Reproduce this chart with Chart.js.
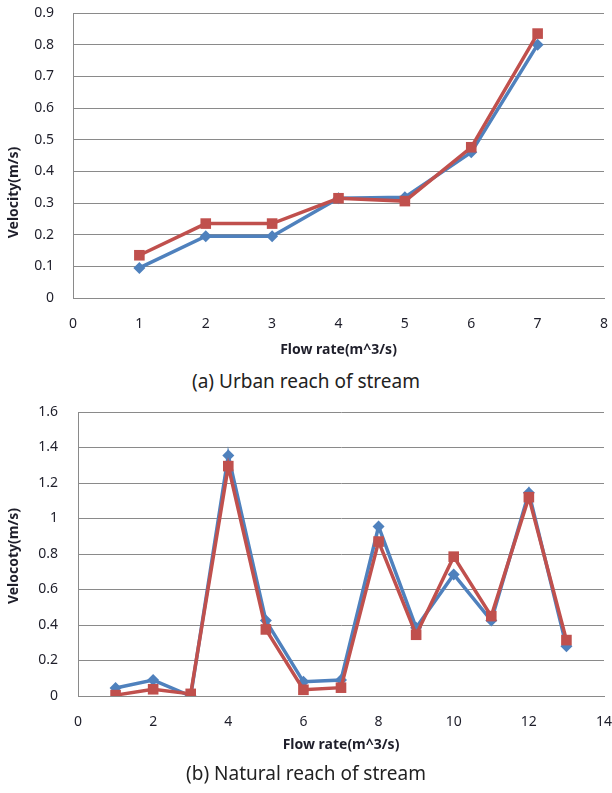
<!DOCTYPE html>
<html>
<head>
<meta charset="utf-8">
<script src="https://cdn.jsdelivr.net/npm/chart.js@4.4.1/dist/chart.umd.min.js"></script>
<style>
  html, body { margin: 0; padding: 0; background: #fff; }
  body { width: 612px; height: 793px; position: relative; overflow: hidden; }
  .box { position: absolute; left: 0; width: 612px; }
  .caption {
    position: absolute; left: 0; width: 612px; text-align: center;
    font-family: "Noto Sans", sans-serif; font-size: 19px; color: #222;
    line-height: 24px; height: 24px;
  }
</style>
</head>
<body>
<div class="box" style="top:0;height:362px"><canvas id="urban" width="612" height="362"></canvas></div>
<div class="caption" style="top:369px">(a) Urban reach of stream</div>
<div class="box" style="top:400px;height:362px"><canvas id="natural" width="612" height="362"></canvas></div>
<div class="caption" style="top:761px">(b) Natural reach of stream</div>
<script>
// Urban reach: flow rate vs. velocity, two series
const urbanFlow = [1, 2, 3, 4, 5, 6, 7];
const urbanSeries1 = [0.095, 0.195, 0.195, 0.315, 0.318, 0.46, 0.80];
const urbanSeries2 = [0.135, 0.235, 0.235, 0.315, 0.306, 0.476, 0.835];

// Natural reach: flow rate vs. velocity, two series
const naturalFlow = [1, 2, 3, 4, 5, 6, 7, 8, 9, 10, 11, 12, 13];
const naturalSeries1 = [0.045, 0.09, 0.0, 1.355, 0.425, 0.08, 0.09, 0.955, 0.385, 0.685, 0.425, 1.145, 0.28];
const naturalSeries2 = [0.005, 0.038, 0.012, 1.295, 0.375, 0.035, 0.047, 0.87, 0.345, 0.785, 0.45, 1.12, 0.315];

const BLUE = '#4F81BD';
const RED = '#C0504D';
const GRID = '#8a8a8a';
const TEXT = '#1e1e2a';

// rotated axis title drawn beside the value axis
const sideTitle = {
  id: 'sideTitle',
  afterDraw(chart, args, opts) {
    const { ctx, chartArea } = chart;
    const y = (chartArea.top + chartArea.bottom) / 2 + (opts.shift || 0);
    ctx.save();
    ctx.translate(opts.x, y);
    ctx.rotate(-Math.PI / 2);
    ctx.font = 'bold 14px "Noto Sans", sans-serif';
    ctx.fillStyle = TEXT;
    ctx.textAlign = 'center';
    ctx.textBaseline = 'middle';
    ctx.fillText(opts.text, 0, 0);
    ctx.restore();
  }
};

function pairs(xs, ys) {
  return xs.map((x, i) => ({ x: x, y: ys[i] }));
}

// plain decimal labels: 0, 0.2, 1, 1.2 ...
function plainNumber(v) {
  return String(parseFloat(v.toFixed(2)));
}

function makeChart(id, cfg) {
  return new Chart(document.getElementById(id), {
    type: 'line',
    data: {
      datasets: [
        {
          data: pairs(cfg.flow, cfg.s1),
          borderColor: BLUE, backgroundColor: BLUE,
          borderWidth: 3.5, pointStyle: 'rectRot', pointRadius: 6,
          pointBorderWidth: 0, tension: 0, order: 2
        },
        {
          data: pairs(cfg.flow, cfg.s2),
          borderColor: RED, backgroundColor: RED,
          borderWidth: 3.5, pointStyle: 'rect', pointRadius: 7.5,
          pointBorderWidth: 0, tension: 0, order: 1
        }
      ]
    },
    options: {
      responsive: false,
      animation: false,
      events: [],
      layout: { padding: { top: cfg.padTop, right: 8, left: 0, bottom: 0 } },
      plugins: {
        legend: { display: false },
        tooltip: { enabled: false },
        sideTitle: { text: cfg.yTitle, x: 14.5, shift: cfg.yShift }
      },
      scales: {
        x: {
          type: 'linear',
          min: cfg.xRange.min, max: cfg.xRange.max,
          ticks: {
            stepSize: cfg.xStep, padding: 18,
            font: { family: '"Noto Sans", sans-serif', size: 14 },
            color: TEXT, callback: plainNumber
          },
          grid: { display: false, drawTicks: false },
          border: { display: true, color: GRID, width: 1 },
          title: {
            display: true, text: 'Flow rate(m^3/s)',
            font: { family: '"Noto Sans", sans-serif', size: 14, weight: 'bold' },
            color: TEXT, padding: { top: 0, bottom: cfg.xTitlePad }
          },
          afterFit(scale) {
            scale.height = cfg.xHeight;
            scale.paddingLeft = 0;
            scale.paddingRight = 0;
          }
        },
        y: {
          min: 0, max: cfg.yMax,
          ticks: {
            stepSize: cfg.yStep, padding: cfg.yPad,
            font: { family: '"Noto Sans", sans-serif', size: 14 },
            color: TEXT, callback: plainNumber
          },
          grid: { color: GRID, lineWidth: 1, drawTicks: false },
          border: { display: true, color: GRID, width: 1 },
          afterFit(scale) {
            scale.width = cfg.yWidth;
            scale.paddingTop = 0;
            scale.paddingBottom = 0;
          }
        }
      }
    },
    plugins: [sideTitle]
  });
}

makeChart('urban', {
  flow: urbanFlow, s1: urbanSeries1, s2: urbanSeries2,
  xRange: { min: 0, max: 8 }, xStep: 1, yMax: 0.9, yStep: 0.1,
  yTitle: 'Velocity(m/s)', yShift: 37,
  padTop: 13, xHeight: 64, yWidth: 73, yPad: 19, xTitlePad: 4
});

makeChart('natural', {
  flow: naturalFlow, s1: naturalSeries1, s2: naturalSeries2,
  xRange: { min: 0, max: 14 }, xStep: 2, yMax: 1.6, yStep: 0.2,
  yTitle: 'Velocoty(m/s)', yShift: 2,
  padTop: 12, xHeight: 66, yWidth: 78, yPad: 20, xTitlePad: 9
});
</script>
</body>
</html>
